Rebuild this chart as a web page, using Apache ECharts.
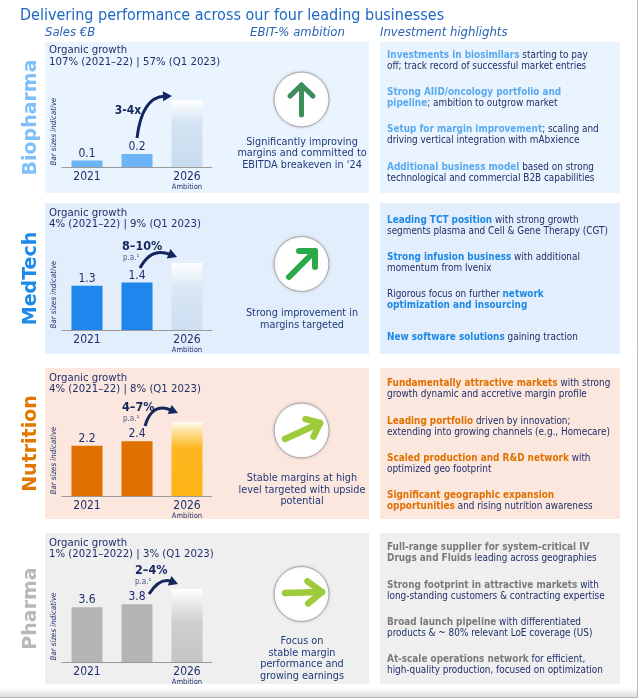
<!DOCTYPE html>
<html><head><meta charset="utf-8">
<script src="https://cdn.jsdelivr.net/npm/echarts@6/dist/echarts.min.js"></script>
<style>html,body{margin:0;padding:0;background:#fff}#c{width:640px;height:700px}</style>
</head><body><div id="c"></div>
<script>
// ---------------- DATA ----------------
const title = 'Delivering performance across our four leading businesses';
const columnHeaders = ['Sales €B', 'EBIT-% ambition', 'Investment highlights'];
const businesses = ['Biopharma', 'MedTech', 'Nutrition', 'Pharma'];
const years = ['2021', '2022', '2026'];
const sales2021 = [0.1, 1.3, 2.2, 3.6];
const sales2022 = [0.2, 1.4, 2.4, 3.8];
// 2026 ambition bars: "bar sizes indicative" (same scale as each panel)
const ambition2026 = [1.03, 1.97, 3.25, 4.8];
const organicGrowth = [
  '107% (2021–22) | 57% (Q1 2023)',
  '4% (2021–22) | 9% (Q1 2023)',
  '4% (2021–22) | 8% (Q1 2023)',
  '1% (2021–2022) | 3% (Q1 2023)'
];
const ambitionGrowth = ['3-4x', '8–10%', '4–7%', '2–4%'];
const ebitText = [
  "Significantly improving\nmargins and committed to\nEBITDA breakeven in '24",
  'Strong improvement in\nmargins targeted',
  'Stable margins at high\nlevel targeted with upside\npotential',
  'Focus on\nstable margin\nperformance and\ngrowing earnings'
];
const highlights = [
  ['{b|Investments in biosimilars} starting to pay\noff; track record of successful market entries',
   '{b|Strong AIID/oncology portfolio and}\n{b|pipeline}; ambition to outgrow market',
   '{b|Setup for margin improvement}; scaling and\ndriving vertical integration with mAbxience',
   '{b|Additional business model} based on strong\ntechnological and commercial B2B capabilities'],
  ['{b|Leading TCT position} with strong growth\nsegments plasma and Cell & Gene Therapy (CGT)',
   '{b|Strong infusion business} with additional\nmomentum from Ivenix',
   'Rigorous focus on further {b|network}\n{b|optimization and insourcing}',
   '{b|New software solutions} gaining traction'],
  ['{b|Fundamentally attractive markets} with strong\ngrowth dynamic and accretive margin profile',
   '{b|Leading portfolio} driven by innovation;\nextending into growing channels (e.g., Homecare)',
   '{b|Scaled production and R&D network} with\noptimized geo footprint',
   '{b|Significant geographic expansion}\n{b|opportunities} and rising nutrition awareness'],
  ['{b|Full-range supplier for system-critical IV}\n{b|Drugs and Fluids} leading across geographies',
   '{b|Strong footprint in attractive markets} with\nlong-standing customers & contracting expertise',
   '{b|Broad launch pipeline} with differentiated\nproducts & ~ 80% relevant LoE coverage (US)',
   '{b|At-scale operations network} for efficient,\nhigh-quality production, focused on optimization']
];

// ---------------- STYLE / LAYOUT ----------------
const FONT = "'DejaVu Sans Condensed','DejaVu Sans',sans-serif";
const NAVY = '#1f2f6b';
const panelTop = [42, 203, 368, 533];
const panelH = 151;
const panelBg = ['#eaf4fe', '#e3eefc', '#fbe7dd', '#efefef'];
const nameColor = ['#80c0f8', '#1e8ae8', '#e07800', '#b8b8b8'];
const barColor = ['#6cb4f5', '#1f86ee', '#df7100', '#b5b5b5'];
const ambGrad = [
  [[0, '#ffffff'], [0.35, '#d3e3f3'], [1, '#c9dbee']],
  [[0, '#ffffff'], [0.4, '#d8e6f5'], [1, '#cfdff2']],
  [[0, '#fffdf5'], [0.12, '#fde3a0'], [0.35, '#fdb620'], [1, '#fdb515']],
  [[0, '#ffffff'], [0.45, '#cfcfcf'], [1, '#c4c4c4']]
];
const hlColor = ['#5aaaf0', '#1e88e5', '#e07000', '#7a7a7a'];
const baseline = [167, 330, 496, 662];
const gridH = 90;
const yMax = [1.385, 2.65, 3.95, 5.92];
const circleY = [99.5, 264, 430.5, 594];
const ebitY = [142, 313, 478, 641];
const ebitLH = [11.6, 12.5, 11.8, 11.7];
const hlY = [[55, 92, 129, 167], [220, 257, 294, 337], [383, 421, 458, 495], [547, 585, 622, 659]];

const chart = echarts.init(document.getElementById('c'), null, {renderer: 'canvas'});

const grids = [], xAxes = [], yAxes = [], series = [], graphics = [];

function txt(x, y, text, o) {
  o = o || {};
  return {
    type: 'text', x: x, y: y, rotation: o.rotation || 0, z: 10,
    style: Object.assign({
      text: text, fill: o.fill || NAVY, fontSize: o.fontSize || 11, fontFamily: o.fontFamily || FONT,
      fontWeight: o.fontWeight || 'normal', fontStyle: o.fontStyle || 'normal',
      align: o.align || 'left', verticalAlign: o.verticalAlign || 'middle',
      lineHeight: o.lineHeight
    }, o.rich ? {rich: o.rich} : {})
  };
}

function straightArrow(x1, y1, x2, y2, len, angDeg, color, lw) {
  const a = Math.atan2(y1 - y2, x1 - x2), d = angDeg * Math.PI / 180;
  const w1 = [x2 + len * Math.cos(a + d), y2 + len * Math.sin(a + d)];
  const w2 = [x2 + len * Math.cos(a - d), y2 + len * Math.sin(a - d)];
  const st = {stroke: color, lineWidth: lw, lineCap: 'round', lineJoin: 'round', fill: null};
  return [
    {type: 'polyline', z: 12, shape: {points: [[x1, y1], [x2, y2]]}, style: st},
    {type: 'polyline', z: 12, shape: {points: [w1, [x2, y2], w2]}, style: st}
  ];
}

function curvedArrow(x1, y1, cx, cy, x2, y2) {
  const a = Math.atan2(y2 - cy, x2 - cx);
  const L = 9, W = 5;
  const bx = x2 - L * Math.cos(a), by = y2 - L * Math.sin(a);
  const px = -Math.sin(a), py = Math.cos(a);
  return [
    {type: 'bezierCurve', z: 12, shape: {x1: x1, y1: y1, cpx1: cx, cpy1: cy, x2: bx + 1.5 * Math.cos(a), y2: by + 1.5 * Math.sin(a)},
     style: {stroke: '#13265e', lineWidth: 3, fill: null}},
    {type: 'polygon', z: 12, shape: {points: [[x2, y2], [bx + W * px, by + W * py], [bx - W * px, by - W * py]]},
     style: {fill: '#13265e'}}
  ];
}

// frame decoration
graphics.push({type: 'rect', z: 0, shape: {x: 0, y: 688, width: 638, height: 9},
  style: {fill: new echarts.graphic.LinearGradient(0, 0, 0, 1, [{offset: 0, color: '#ffffff'}, {offset: 1, color: '#dedede'}])}});
graphics.push({type: 'line', z: 1, shape: {x1: 637.5, y1: 0, x2: 637.5, y2: 697.5}, style: {stroke: '#b8b8b8', lineWidth: 1}});
graphics.push({type: 'line', z: 1, shape: {x1: 0, y1: 697.5, x2: 638, y2: 697.5}, style: {stroke: '#b8b8b8', lineWidth: 1}});

graphics.push(txt(20, 16, title, {fill: '#1c66c5', fontSize: 16}));
graphics.push(txt(45, 33, columnHeaders[0], {fill: '#2a63b5', fontSize: 13, fontStyle: 'italic'}));
graphics.push(txt(250, 33, columnHeaders[1], {fill: '#2a63b5', fontSize: 13, fontStyle: 'italic'}));
graphics.push(txt(380, 33, columnHeaders[2], {fill: '#2a63b5', fontSize: 13, fontStyle: 'italic'}));

for (let i = 0; i < 4; i++) {
  const top = panelTop[i];
  graphics.push({type: 'rect', z: -10, shape: {x: 45, y: top, width: 324, height: panelH}, style: {fill: panelBg[i]}});
  graphics.push({type: 'rect', z: -10, shape: {x: 380, y: top, width: 240, height: panelH}, style: {fill: panelBg[i]}});
  graphics.push(txt(31, top + panelH / 2, businesses[i], {rotation: Math.PI / 2, align: 'center', fontSize: 19, fontWeight: 'bold', fill: nameColor[i], fontFamily: "'DejaVu Sans',sans-serif"}));
  graphics.push(txt(49, top + (i === 0 ? 8 : 10), 'Organic growth', {fontSize: 11.3}));
  graphics.push(txt(49, top + (i === 0 ? 20 : 21.5), organicGrowth[i], {fontSize: 11.3}));
  graphics.push(txt(54, baseline[i] - 35.5, 'Bar sizes indicative', {rotation: Math.PI / 2, align: 'center', fontSize: 7.8, fontStyle: 'italic'}));

  // circle + arrow
  graphics.push({type: 'circle', z: 5, shape: {cx: 301.5, cy: circleY[i], r: 27.5},
    style: {fill: '#ffffff', stroke: '#a8a8a8', lineWidth: 1, shadowBlur: 3, shadowColor: 'rgba(0,0,0,0.15)'}});
  graphics.push(txt(302, ebitY[i] + (ebitText[i].split('\n').length - 1) * ebitLH[i] / 2, ebitText[i], {align: 'center', verticalAlign: 'middle', fontSize: 10.8, lineHeight: ebitLH[i], fill: '#1f3a7a'}));

  // highlights
  highlights[i].forEach(function (h, k) {
    graphics.push(txt(387, hlY[i][k] - 5.75, h, {
      verticalAlign: 'top', fontSize: 9.9, lineHeight: 11.5, fill: NAVY,
      rich: {b: {fontWeight: 'bold', fill: hlColor[i], fontSize: 9.9, fontFamily: FONT, lineHeight: 11.5}}
    }));
  });

  grids.push({left: 62, width: 150, top: baseline[i] - gridH, height: gridH});
  xAxes.push({
    type: 'category', gridIndex: i, data: years,
    axisTick: {show: false},
    axisLine: {lineStyle: {color: '#9a9a9a', width: 1}},
    axisLabel: {
      color: NAVY, fontSize: 12, fontFamily: FONT, margin: 4, lineHeight: 12, verticalAlign: 'top',
      formatter: function (v) { return v === '2026' ? v + '\n{s|Ambition}' : v; },
      rich: {s: {fontSize: 7.5, color: NAVY, fontFamily: FONT, lineHeight: 9}}
    }
  });
  yAxes.push({type: 'value', gridIndex: i, show: false, min: 0, max: yMax[i], splitLine: {show: false}});
  series.push({
    type: 'bar', xAxisIndex: i, yAxisIndex: i, barWidth: 31, silent: true,
    data: [
      {value: sales2021[i], itemStyle: {color: barColor[i]}},
      {value: sales2022[i], itemStyle: {color: barColor[i]}},
      {value: ambition2026[i], label: {show: false},
       itemStyle: {color: new echarts.graphic.LinearGradient(0, 0, 0, 1, ambGrad[i].map(function (s) { return {offset: s[0], color: s[1]}; }))}}
    ],
    label: {show: true, position: 'top', distance: 1, color: NAVY, fontSize: 12, fontFamily: FONT,
      formatter: function (p) { return p.value.toFixed(1); }}
  });
}

// EBIT arrows
[].push.apply(graphics, straightArrow(301.5, 115, 301.5, 85, 16, 46, '#3e8e5b', 5));
[].push.apply(graphics, straightArrow(289, 277, 315, 251, 16, 45, '#2aa84a', 6));
[].push.apply(graphics, straightArrow(285, 439, 320, 423, 15, 40, '#9dcb3b', 6.5));
[].push.apply(graphics, straightArrow(285, 593, 322, 592, 18, 38, '#9dcb3b', 6.5));

// growth arrows + labels
[].push.apply(graphics, curvedArrow(137, 138, 142, 97, 172, 96));
[].push.apply(graphics, curvedArrow(140, 268, 151, 247, 177, 257));
[].push.apply(graphics, curvedArrow(145, 426, 152, 402, 178, 413));
[].push.apply(graphics, curvedArrow(149, 594, 160, 577, 178, 584));
graphics.push(txt(128, 111, ambitionGrowth[0], {align: 'center', fontSize: 12, fontWeight: 'bold', fill: '#13265e'}));
graphics.push(txt(122, 247, ambitionGrowth[1], {fontSize: 12.5, fontWeight: 'bold', fill: '#13265e'}));
graphics.push(txt(123, 258, 'p.a.¹', {fontSize: 8, fill: '#4a5680'}));
graphics.push(txt(122, 408, ambitionGrowth[2], {fontSize: 12.5, fontWeight: 'bold', fill: '#13265e'}));
graphics.push(txt(123, 419, 'p.a.¹', {fontSize: 8, fill: '#4a5680'}));
graphics.push(txt(135, 571, ambitionGrowth[3], {fontSize: 12.5, fontWeight: 'bold', fill: '#13265e'}));
graphics.push(txt(135, 582, 'p.a.¹', {fontSize: 8, fill: '#4a5680'}));

chart.setOption({
  animation: false,
  backgroundColor: '#ffffff',
  grid: grids, xAxis: xAxes, yAxis: yAxes, series: series,
  graphic: {elements: graphics}
});
</script></body></html>
